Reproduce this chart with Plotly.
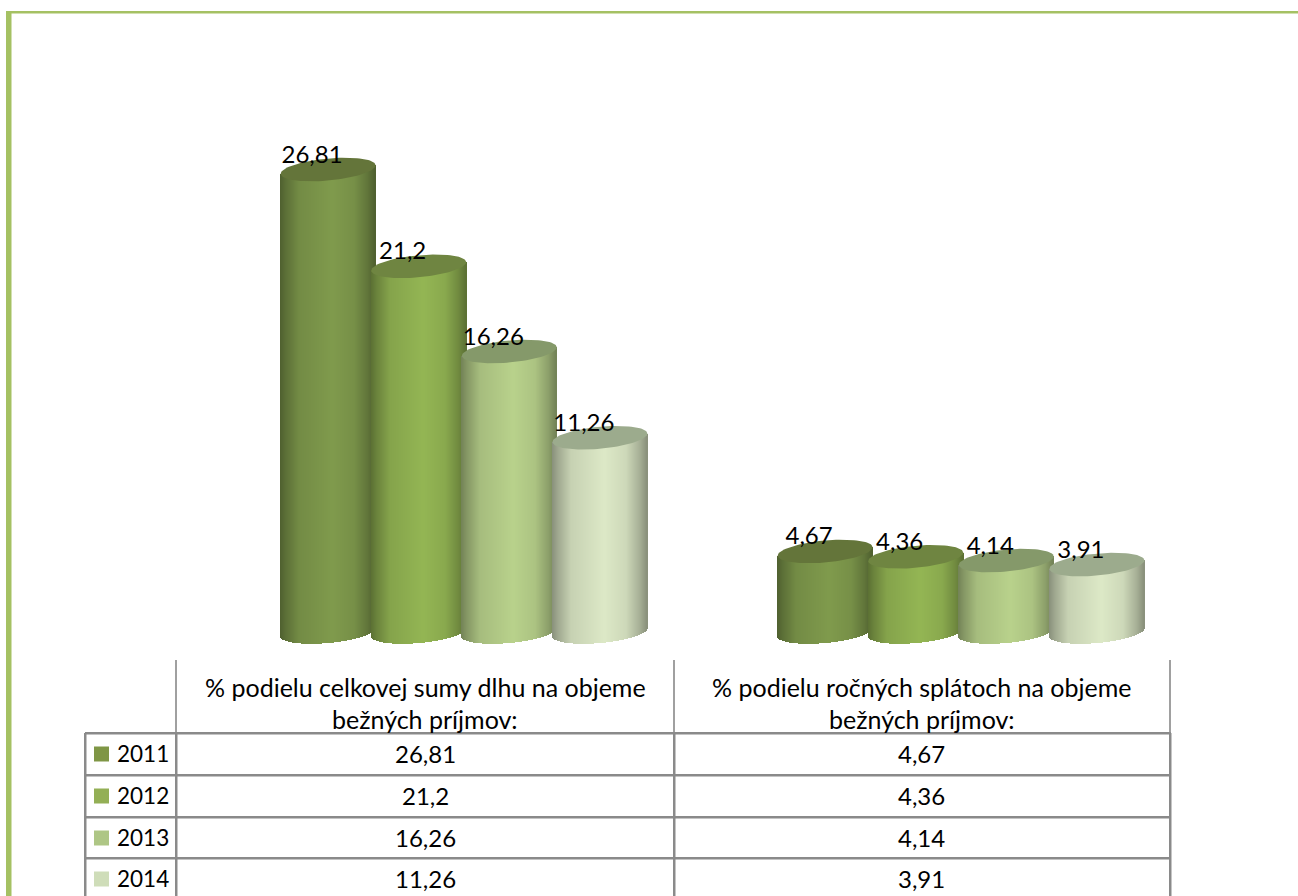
import numpy as np
import plotly.graph_objects as go

# ---- data ----
categories = ["% podielu celkovej sumy dlhu na objeme<br>bežných príjmov:",
              "% podielu ročných splátoch na objeme<br>bežných príjmov:"]
years = ["2011", "2012", "2013", "2014"]
v2011 = [26.81, 4.67]
v2012 = [21.2, 4.36]
v2013 = [16.26, 4.14]
v2014 = [11.26, 3.91]
series = [v2011, v2012, v2013, v2014]

# ---- styling ----
W, H = 1298, 896
body_colors = [(128, 155, 77), (148, 182, 84), (185, 210, 140), (221, 233, 199)]
top_colors = ["#64753A", "#6F8541", "#85996A", "#9CAB8D"]
key_colors = ["#7F9645", "#93AF55", "#AEC685", "#CFDDB9"]
FRAME = "#A5C163"
GRID_DARK = "#8A8A8A"
GRID_LIGHT = "#A0A0A0"
FONT = "Lato"
FS_HEAD = 25
FS_NUM = 24

# plot area in pixels
PX_L, PX_R, PX_T, PX_B = 176, 1170, 100, 660
BASE_PX = 632          # pixel row of value 0
PX_PER_VAL = 17.25
PX_PER_CAT = (PX_R - PX_L) / 2.0
xrange_ = [-0.5, 1.5]
yrange_ = [(BASE_PX - PX_B) / PX_PER_VAL, (BASE_PX - PX_T) / PX_PER_VAL]

GROUP_SHIFT = 39.5 / PX_PER_CAT
SPACING = 90.6 / PX_PER_CAT
HALF_W = 47.5 / PX_PER_CAT
TILT = 4.2 / 47.5      # px rise per px to the right
MINOR = 11.0 / PX_PER_VAL
STRIP = 1.0 / PX_PER_CAT
tilt_data = TILT * PX_PER_CAT / PX_PER_VAL

shade_t = [0, 0.06, 0.2, 0.55, 0.78, 0.92, 1]
shade_f = [0.62, 0.72, 0.90, 1.0, 0.93, 0.76, 0.62]


def shaded(rgb, t):
    f = np.interp(t, shade_t, shade_f)
    return "rgb(%d,%d,%d)" % tuple(int(c * f) for c in rgb)


fig = go.Figure()
labels_x, labels_y, labels_text = [], [], []
for c_i in range(len(categories)):
    for s_i, vals in enumerate(series):
        val = vals[c_i]
        cx = c_i + GROUP_SHIFT + (s_i - 1.5) * SPACING
        # body: vertical strips carrying the cylinder's shading
        dx = np.arange(-HALF_W + STRIP / 2, HALF_W, STRIP)
        u = dx / HALF_W
        lower = tilt_data * dx - MINOR * np.sqrt(np.clip(1 - u ** 2, 0, 1))
        centre = tilt_data * dx
        fig.add_trace(go.Bar(
            x=cx + dx, y=(val + centre) - lower, base=lower,
            width=STRIP * 1.4,
            marker=dict(color=[shaded(body_colors[s_i], (a + 1) / 2) for a in u],
                        line=dict(width=0)),
            hoverinfo="skip", showlegend=False))
        # top cap
        th = np.linspace(0, 2 * np.pi, 90)
        ex = HALF_W * np.cos(th)
        ey = val + tilt_data * ex + MINOR * np.sin(th)
        fig.add_trace(go.Scatter(
            x=cx + ex, y=ey, mode="lines", fill="toself",
            fillcolor=top_colors[s_i], line=dict(width=0),
            hoverinfo="skip", showlegend=False))
        labels_x.append(cx - 16 / PX_PER_CAT)
        labels_y.append(val + 13 / PX_PER_VAL)
        labels_text.append(str(val).replace(".", ","))

fig.add_trace(go.Scatter(
    x=labels_x, y=labels_y, text=labels_text, mode="text",
    textposition="middle center",
    textfont=dict(family=FONT, size=FS_NUM, color="black"),
    hoverinfo="skip", showlegend=False))


def px(x):
    return x / W


def py(y):
    return 1 - y / H


shapes = []


def rect(x0, y0, x1, y1, color):
    shapes.append(dict(type="rect", xref="paper", yref="paper",
                       x0=px(x0), x1=px(x1), y0=py(y0), y1=py(y1),
                       fillcolor=color, line=dict(width=0), layer="above"))


# outer frame
rect(6, 11, 11.5, H, FRAME)
rect(6, 11, W, 13.5, FRAME)

# table rules
col_x = [176, 674, 1170]
row_y = [733, 775, 817, 858]
for x in col_x:
    rect(x - 1, 660, x + 1, 733, GRID_LIGHT)
    rect(x - 1, 733, x + 1.5, H, GRID_DARK)
rect(84, 733, 86.5, H, GRID_DARK)
for y in row_y:
    rect(85, y - 1, 1171, y + 1.5, GRID_DARK)

annotations = []


def text(x, y, s, size, anchor="center"):
    annotations.append(dict(xref="paper", yref="paper", x=px(x), y=py(y),
                            text=s, showarrow=False, xanchor=anchor, yanchor="middle",
                            align="center", font=dict(family=FONT, size=size, color="black")))


# header cells
col_centres = [425, 922]
for c_i, cat in enumerate(categories):
    first, second = cat.split("<br>")
    text(col_centres[c_i], 687, first, FS_HEAD)
    text(col_centres[c_i], 719, second, FS_HEAD)

# body rows
row_centres = [754, 796, 838, 879]
for s_i, vals in enumerate(series):
    y = row_centres[s_i]
    rect(94, y - 7.5, 109, y + 7.5, key_colors[s_i])
    text(115, y - 1, years[s_i], FS_NUM - 1.5, anchor="left")
    for c_i, v in enumerate(vals):
        text(col_centres[c_i], y - 1, str(v).replace(".", ","), FS_NUM)

fig.update_layout(
    width=W, height=H, margin=dict(l=0, r=0, t=0, b=0),
    paper_bgcolor="white", plot_bgcolor="rgba(0,0,0,0)",
    barmode="overlay", bargap=0, showlegend=False,
    font=dict(family=FONT),
    shapes=shapes, annotations=annotations,
    xaxis=dict(domain=[px(PX_L), px(PX_R)], range=xrange_, visible=False, fixedrange=True),
    yaxis=dict(domain=[py(PX_B), py(PX_T)], range=yrange_, visible=False, fixedrange=True),
)

fig.write_html("out.html", config={"displayModeBar": False},
               post_script="document.body.style.margin='0';document.documentElement.style.overflow='hidden';")
